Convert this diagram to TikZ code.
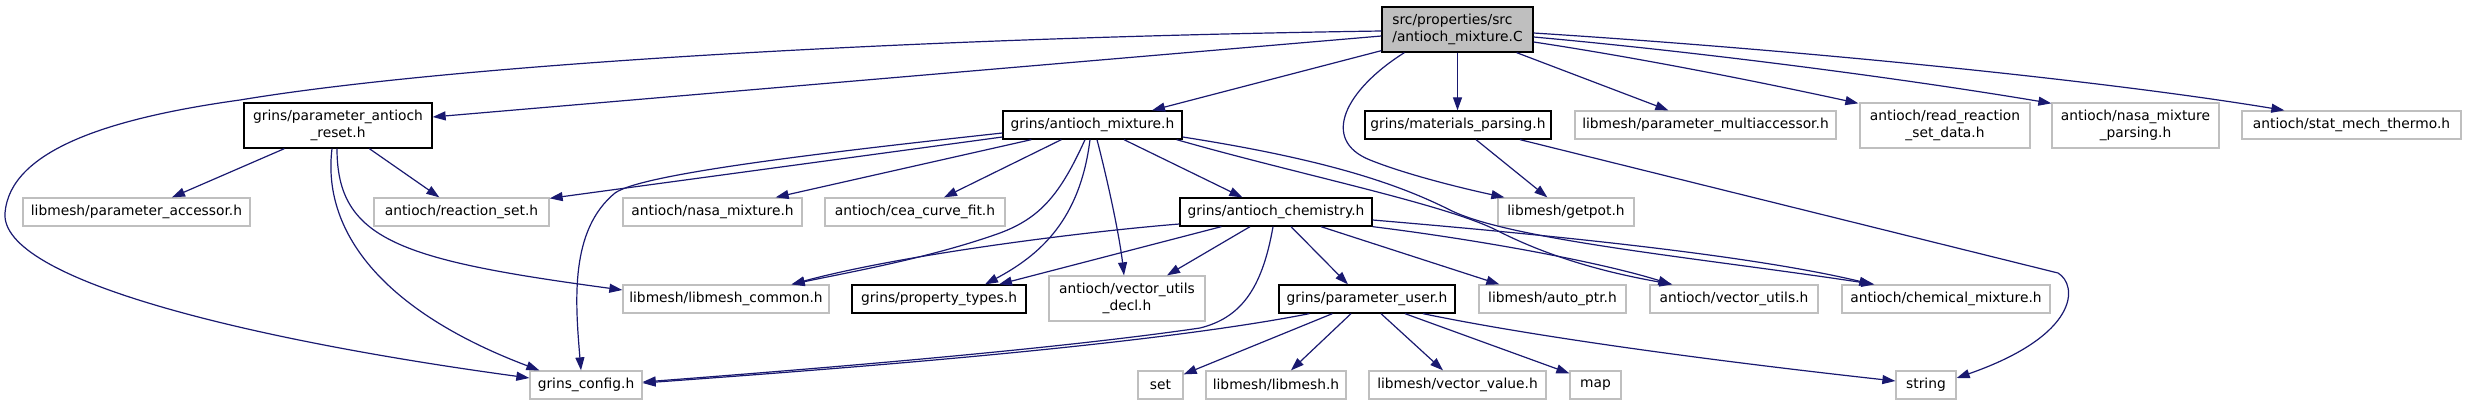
\documentclass[tikz,border=0pt]{standalone}
\usepackage{fontspec}
\setmainfont{DejaVu Sans}
\usetikzlibrary{arrows.meta}
\definecolor{edgec}{HTML}{191970}
\definecolor{greyb}{HTML}{BFBFBF}
\begin{document}
\begin{tikzpicture}[x=1pt,y=1pt,
  base/.style={rectangle,inner sep=0pt,font=\fontsize{13.8}{17}\selectfont,align=center,line width=1.3pt},
  gbox/.style={base,draw=greyb,fill=white},
  bbox/.style={base,draw=black,fill=white},
  rbox/.style={base,draw=black,fill=greyb,align=left},
  e/.style={draw=edgec,line width=1.2pt,-{Triangle[length=13pt,width=9pt]}}]
\useasboundingbox (0,0) rectangle (2466,-405);
% nodes
\node[rbox,minimum width=151,minimum height=45] (R) at (1457.5,-29.5) {src/properties/src\\/antioch\_mixture.C};
\node[bbox,minimum width=188,minimum height=45] (P) at (338,-125.5) {grins/parameter\_antioch\\\_reset.h};
\node[gbox,minimum width=227,minimum height=28] (PA) at (136.5,-212) {libmesh/parameter\_accessor.h};
\node[gbox,minimum width=175,minimum height=28] (RS) at (461.5,-212) {antioch/reaction\_set.h};
\node[gbox,minimum width=179,minimum height=28] (NM) at (712.5,-212) {antioch/nasa\_mixture.h};
\node[gbox,minimum width=206,minimum height=28] (LC) at (726,-299) {libmesh/libmesh\_common.h};
\node[gbox,minimum width=112,minimum height=28] (GC) at (586,-385) {grins\_config.h};
\node[bbox,minimum width=179,minimum height=28] (AM) at (1092.5,-125) {grins/antioch\_mixture.h};
\node[gbox,minimum width=180,minimum height=28] (CEA) at (915,-212) {antioch/cea\_curve\_fit.h};
\node[bbox,minimum width=174,minimum height=28] (PT) at (939,-299) {grins/property\_types.h};
\node[gbox,minimum width=156,minimum height=45] (VUD) at (1127,-298.5) {antioch/vector\_utils\\\_decl.h};
\node[bbox,minimum width=192,minimum height=28] (AC) at (1276,-212) {grins/antioch\_chemistry.h};
\node[gbox,minimum width=45,minimum height=28] (SET) at (1160.5,-385) {set};
\node[gbox,minimum width=140,minimum height=28] (LM) at (1276,-385) {libmesh/libmesh.h};
\node[bbox,minimum width=186,minimum height=28] (MP) at (1458,-125) {grins/materials\_parsing.h};
\node[gbox,minimum width=261,minimum height=28] (PMA) at (1705.5,-125) {libmesh/parameter\_multiaccessor.h};
\node[gbox,minimum width=136,minimum height=28] (GP) at (1566,-212) {libmesh/getpot.h};
\node[bbox,minimum width=176,minimum height=28] (PU) at (1367,-299) {grins/parameter\_user.h};
\node[gbox,minimum width=147,minimum height=28] (AP) at (1552.5,-299) {libmesh/auto\_ptr.h};
\node[gbox,minimum width=177,minimum height=28] (VV) at (1457.5,-385) {libmesh/vector\_value.h};
\node[gbox,minimum width=51,minimum height=28] (MAP) at (1595.5,-385) {map};
\node[gbox,minimum width=170,minimum height=45] (RRS) at (1945,-125.5) {antioch/read\_reaction\\\_set\_data.h};
\node[gbox,minimum width=167,minimum height=45] (NMP) at (2135.5,-125.5) {antioch/nasa\_mixture\\\_parsing.h};
\node[gbox,minimum width=168,minimum height=28] (VU) at (1734,-299) {antioch/vector\_utils.h};
\node[gbox,minimum width=208,minimum height=28] (CM) at (1946,-299) {antioch/chemical\_mixture.h};
\node[gbox,minimum width=60,minimum height=28] (STR) at (1926,-385) {string};
\node[gbox,minimum width=219,minimum height=28] (SMT) at (2351.5,-125) {antioch/stat\_mech\_thermo.h};
% root edges
\draw[e] ([yshift=-1.5]R.west) .. controls (900,-38) and (450,-65) .. (240,-100)
  .. controls (110,-118) and (10,-150) .. (5,-213)
  .. controls (0,-280) and (250,-340) .. ([yshift=7]GC.west);
\draw[e] ([yshift=-6.5]R.west) -- ([yshift=8.5]P.east);
\draw[e] ([yshift=2]R.south west) -- ([xshift=59.5]AM.north);
\draw[e] ([xshift=23]R.south west) .. controls (1345,-90) and (1320,-140) .. (1370,-160)
  .. controls (1410,-176) and (1470,-190) .. ([xshift=7]GP.north west);
\draw[e] (R.south) -- (R.south |- MP.north);
\draw[e] ([xshift=-17]R.south east) -- ([xshift=94]PMA.north west);
\draw[e] ([yshift=-12.5]R.east) .. controls (1640,-58) and (1760,-82) .. ([shift={(-1,-1)}]RRS.north west);
\draw[e] ([yshift=-7.5]R.east) .. controls (1700,-52) and (1900,-78) .. ([yshift=-1]NMP.north west);
\draw[e] ([yshift=-3.5]R.east) .. controls (1800,-50) and (2100,-80) .. ([xshift=43]SMT.north west);
% parameter_antioch_reset edges
\draw[e] ([xshift=41]P.south west) -- ([xshift=35.5]PA.north);
\draw[e] ([xshift=126]P.south west) -- ([xshift=66]RS.north west);
\draw[e] ([xshift=-6]P.south) .. controls (322,-230) and (380,-310) .. ([xshift=10]GC.north west);
\draw[e] ([xshift=-1]P.south) .. controls (337,-240) and (400,-260) .. ([yshift=9]LC.west);
% antioch_mixture edges
\draw[e] ([yshift=-12]AM.west) -- ([yshift=-1]RS.north east);
\draw[e] ([yshift=-8]AM.west) .. controls (800,-155) and (640,-175) .. (615,-193)
  .. controls (570,-230) and (575,-300) .. ([xshift=-5]GC.north);
\draw[e] ([xshift=29]AM.south west) -- ([xshift=-27]NM.north east);
\draw[e] ([xshift=59]AM.south west) -- ([xshift=29]CEA.north);
\draw[e] ([xshift=-7.5]AM.south) .. controls (1060,-195) and (1040,-218) .. (1000,-233)
  .. controls (930,-258) and (850,-272) .. ([xshift=-38]LC.north east);
\draw[e] ([xshift=-2.5]AM.south) .. controls (1080,-220) and (1040,-255) .. ([xshift=46]PT.north);
\draw[e] ([xshift=4.5]AM.south) .. controls (1110,-190) and (1120,-240) .. ([xshift=-3]VUD.north);
\draw[e] ([xshift=31.5]AM.south) -- ([xshift=63]AC.north west);
\draw[e] ([yshift=-12]AM.east) .. controls (1330,-160) and (1400,-185) .. (1450,-210)
  .. controls (1510,-240) and (1700,-258) .. ([xshift=33]CM.north west);
\draw[e] ([xshift=-6]AM.south east) .. controls (1300,-175) and (1450,-205) .. (1500,-232)
  .. controls (1560,-262) and (1620,-275) .. ([xshift=23]VU.north west);
% antioch_chemistry edges
\draw[e] ([yshift=-12]AC.west) .. controls (1080,-232) and (900,-255) .. ([xshift=-38]LC.north east);
\draw[e] ([xshift=42]AC.south west) -- ([xshift=60]PT.north);
\draw[e] ([xshift=-26]AC.south) -- ([xshift=40]VUD.north);
\draw[e] ([xshift=-3]AC.south) .. controls (1262,-290) and (1240,-318) .. (1200,-328)
  .. controls (1050,-350) and (800,-370) .. ([yshift=3]GC.east);
\draw[e] ([xshift=15]AC.south) -- ([xshift=-19]PU.north);
\draw[e] ([xshift=45]AC.south) -- ([xshift=21]AP.north west);
\draw[e] ([yshift=-8]AC.east) .. controls (1550,-235) and (1750,-255) .. ([xshift=31]CM.north west);
\draw[e] (AC.south east) .. controls (1480,-240) and (1600,-262) .. ([xshift=22]VU.north west);
% parameter_user edges
\draw[e] ([xshift=31]PU.south west) .. controls (1150,-345) and (850,-368) .. ([yshift=2]GC.east);
\draw[e] ([xshift=54]PU.south west) -- ([yshift=-4]SET.north east);
\draw[e] ([xshift=-16]PU.south) -- ([xshift=15]LM.north);
\draw[e] ([xshift=14]PU.south) -- ([xshift=-14.5]VV.north);
\draw[e] ([xshift=38]PU.south) -- ([yshift=-3]MAP.north west);
\draw[e] ([xshift=56]PU.south) .. controls (1550,-340) and (1750,-365) .. ([yshift=4]STR.west);
% materials_parsing edges
\draw[e] ([xshift=18]MP.south) -- ([xshift=50]GP.north west);
\draw[e] ([xshift=62]MP.south) -- (2058,-273) .. controls (2078,-285) and (2080,-335) .. ([yshift=7]STR.east);
\end{tikzpicture}
\end{document}
